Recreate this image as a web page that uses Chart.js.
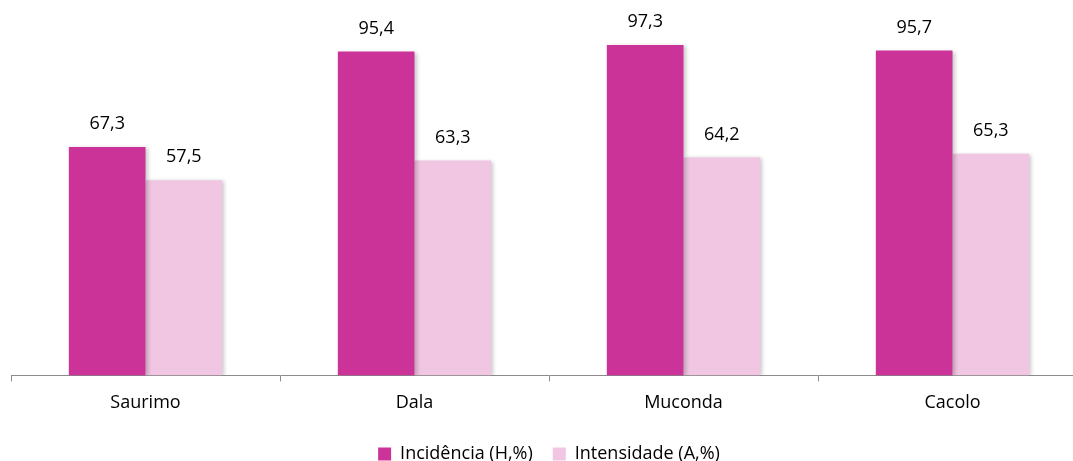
<!DOCTYPE html>
<html>
<head>
<meta charset="utf-8">
<script src="https://cdn.jsdelivr.net/npm/chart.js@4/dist/chart.umd.min.js"></script>
<style>
  html, body { margin: 0; padding: 0; background: #fff; overflow: hidden; }
  #wrap { width: 1073px; height: 461px; overflow: hidden; }
</style>
</head>
<body>
<div id="wrap"><canvas id="chart" width="1100" height="473"></canvas></div>
<script>
// dados
const categories = ['Saurimo', 'Dala', 'Muconda', 'Cacolo'];
const incidencia = [67.3, 95.4, 97.3, 95.7];
const intensidade = [57.5, 63.3, 64.2, 65.3];
const seriesNames = ['Incidência (H,%)', 'Intensidade (A,%)'];

const FONT = "'Open Sans', 'Noto Sans', sans-serif";
const FSIZE = 18;

// sombra leve nas barras
const barShadow = {
    id: 'barShadow',
    beforeDatasetsDraw(chart) {
        const ctx = chart.ctx;
        ctx.save();
        ctx.shadowColor = 'rgba(0,0,0,0.22)';
        ctx.shadowBlur = 4;
        ctx.shadowOffsetX = 2;
        ctx.shadowOffsetY = 1;
    },
    afterDatasetsDraw(chart) {
        chart.ctx.restore();
    }
};

// rótulos com vírgula decimal
const valueLabels = {
    id: 'valueLabels',
    afterDatasetsDraw(chart) {
        const ctx = chart.ctx;
        ctx.save();
        ctx.font = FSIZE + 'px ' + FONT;
        ctx.fillStyle = '#000';
        ctx.textAlign = 'center';
        ctx.textBaseline = 'middle';
        chart.data.datasets.forEach((ds, di) => {
            chart.getDatasetMeta(di).data.forEach((bar, i) => {
                const txt = ds.data[i].toFixed(1).replace('.', ',');
                ctx.fillText(txt, bar.x, bar.y - 23);
            });
        });
        ctx.restore();
    }
};

new Chart(document.getElementById('chart'), {
    type: 'bar',
    data: {
        labels: categories,
        datasets: [
            { label: seriesNames[0], data: incidencia, backgroundColor: '#CC3399' },
            { label: seriesNames[1], data: intensidade, backgroundColor: '#F1C6E2' }
        ]
    },
    options: {
        responsive: false,
        animation: false,
        categoryPercentage: 0.57,
        barPercentage: 1,
        layout: { padding: { left: 11, right: 13, top: 2, bottom: 0 } },
        plugins: {
            tooltip: { enabled: false },
            legend: {
                position: 'bottom',
                labels: {
                    font: { size: FSIZE, family: FONT },
                    color: '#000',
                    boxWidth: 13,
                    boxHeight: 13,
                    padding: 20
                }
            }
        },
        scales: {
            x: {
                grid: { display: true, drawOnChartArea: false, offset: true, tickLength: 6, color: '#8c8c8c' },
                border: { color: '#8c8c8c', width: 1 },
                ticks: { font: { size: FSIZE, family: FONT }, color: '#000', padding: 11 }
            },
            y: { display: false, min: 0, max: 110 }
        }
    },
    plugins: [barShadow, valueLabels]
});
</script>
</body>
</html>
